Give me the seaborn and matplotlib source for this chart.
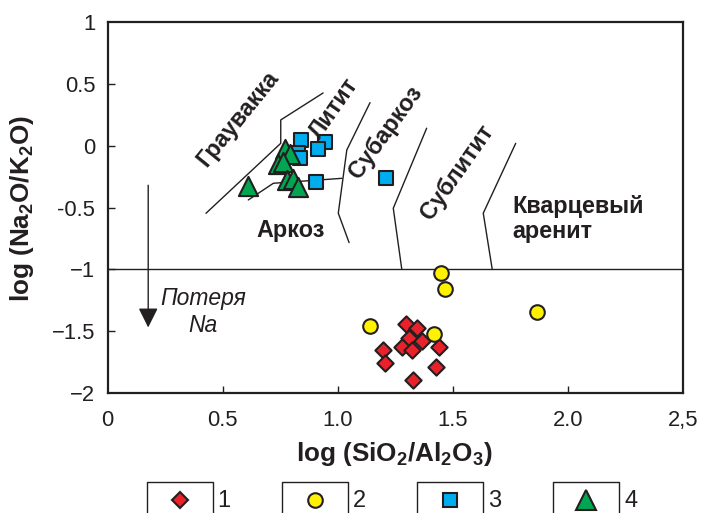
import matplotlib
matplotlib.use("Agg")
import matplotlib.pyplot as plt
import seaborn as sns
import pandas as pd

# ---- data ----
diamonds_x = [1.296, 1.343, 1.311, 1.278, 1.365, 1.321, 1.441, 1.198, 1.205, 1.427, 1.328]
diamonds_y = [-1.441, -1.476, -1.557, -1.630, -1.576, -1.652, -1.630, -1.652, -1.759, -1.791, -1.894]

circles_x = [1.447, 1.466, 1.140, 1.418, 1.867]
circles_y = [-1.027, -1.161, -1.458, -1.525, -1.342]

squares_x = [0.839, 0.944, 0.915, 0.828, 0.836, 0.905, 1.209]
squares_y = [0.046, 0.027, -0.027, -0.061, -0.102, -0.296, -0.264]

triangles_x = [0.611, 0.771, 0.792, 0.742, 0.760, 0.778, 0.804, 0.828]
triangles_y = [-0.323, -0.028, -0.069, -0.148, -0.129, -0.280, -0.268, -0.338]

# field boundaries
lineA_x = [0.427, 0.752, 0.752, 0.936]
lineA_y = [-0.547, 0.019, 0.208, 0.426]
lineB_x = [0.611, 0.720, 1.018]
lineB_y = [-0.439, -0.304, -0.264]
lineC_x = [1.140, 1.039, 1.002, 1.049]
lineC_y = [0.348, -0.035, -0.546, -0.784]
lineD_x = [1.386, 1.241, 1.278]
lineD_y = [0.141, -0.506, -1.0]
lineE_x = [1.773, 1.632, 1.671]
lineE_y = [0.019, -0.546, -1.0]
hline_x = [0.0, 2.5]
hline_y = [-1.0, -1.0]

x_ticks = [0, 0.5, 1.0, 1.5, 2.0, 2.5]
x_ticklabels = ["0", "0.5", "1.0", "1.5", "2.0", "2,5"]
y_ticks = [1, 0.5, 0, -0.5, -1, -1.5, -2]
y_ticklabels = ["1", "0.5", "0", "-0.5", "\u22121", "\u22121.5", "\u22122"]

legend_labels = ["1", "2", "3", "4"]

# ---- style ----
sns.set_style("ticks")
plt.rcParams["font.family"] = ["Liberation Sans", "DejaVu Sans"]
plt.rcParams["mathtext.fontset"] = "custom"
plt.rcParams["mathtext.rm"] = "Liberation Sans"
plt.rcParams["mathtext.bf"] = "Liberation Sans:bold"
plt.rcParams["mathtext.it"] = "Liberation Sans:italic"

EDGE = "#231f20"
RED = "#e8212a"
YELLOW = "#fff200"
BLUE = "#00aeef"
GREEN = "#00a651"

MS_D, MS_C, MS_S, MS_T = 8.3, 10.5, 9.6, 13.8

fig = plt.figure(figsize=(7.06, 5.13), dpi=100)
ax = fig.add_axes([107.7 / 706, 1 - 393 / 513, (683 - 107.7) / 706, (393 - 22) / 513])

lw_line = 1.0
for lx, ly in [(lineA_x, lineA_y), (lineB_x, lineB_y), (lineC_x, lineC_y),
               (lineD_x, lineD_y), (lineE_x, lineE_y), (hline_x, hline_y)]:
    ax.plot(lx, ly, color=EDGE, lw=lw_line, zorder=2)

df_d = pd.DataFrame({"x": diamonds_x, "y": diamonds_y})
df_c = pd.DataFrame({"x": circles_x, "y": circles_y})
df_s = pd.DataFrame({"x": squares_x, "y": squares_y})
df_t = pd.DataFrame({"x": triangles_x, "y": triangles_y})

sns.scatterplot(data=df_d, x="x", y="y", marker="D", s=MS_D ** 2, color=RED,
                edgecolor=EDGE, linewidth=1.5, ax=ax, zorder=3, legend=False)
sns.scatterplot(data=df_c, x="x", y="y", marker="o", s=MS_C ** 2, color=YELLOW,
                edgecolor=EDGE, linewidth=1.5, ax=ax, zorder=3, legend=False)
sns.scatterplot(data=df_s, x="x", y="y", marker="s", s=MS_S ** 2, color=BLUE,
                edgecolor=EDGE, linewidth=1.5, ax=ax, zorder=3, legend=False)
sns.scatterplot(data=df_t, x="x", y="y", marker="^", s=MS_T ** 2, color=GREEN,
                edgecolor=EDGE, linewidth=1.5, ax=ax, zorder=4, legend=False)

# arrow "loss of Na"
ax.annotate("", xy=(0.176, -1.47), xytext=(0.176, -0.32),
            arrowprops=dict(arrowstyle="-|>,head_length=0.6,head_width=0.3",
                            mutation_scale=20, color=EDGE, lw=1.0,
                            shrinkA=0, shrinkB=0), zorder=2)
ax.text(0.414, -1.288, "Потеря", fontsize=16.5, style="italic", ha="center",
        va="baseline", color=EDGE)
ax.text(0.414, -1.504, "Na", fontsize=16.5, style="italic", ha="center",
        va="baseline", color=EDGE)

# field labels
FS_LAB = 16.8
lab_kw = dict(fontsize=FS_LAB, fontweight="bold", color=EDGE, ha="center",
              va="center", rotation_mode="anchor")
ax.text(0.565, 0.222, "Граувакка", rotation=51, **lab_kw)
ax.text(0.985, 0.300, "Литит", rotation=55, **lab_kw)
ax.text(1.207, 0.108, "Субаркоз", rotation=54, **lab_kw)
ax.text(1.519, -0.215, "Сублитит", rotation=55, **lab_kw)
ax.text(0.794, -0.736, "Аркоз", fontsize=FS_LAB, fontweight="bold", color=EDGE,
        ha="center", va="baseline")
ax.text(1.758, -0.547, "Кварцевый", fontsize=FS_LAB, fontweight="bold", color=EDGE,
        ha="left", va="baseline")
ax.text(1.758, -0.749, "аренит", fontsize=FS_LAB, fontweight="bold", color=EDGE,
        ha="left", va="baseline")

# axes
FS_TICK = 15.8
ax.set_xlim(0, 2.5)
ax.set_ylim(-2, 1)
ax.set_xticks(x_ticks[1:-1])
ax.set_xticklabels(x_ticklabels[1:-1])
ax.set_yticks(y_ticks[1:-1])
ax.set_yticklabels(y_ticklabels[1:-1])
ax.tick_params(axis="both", direction="in", length=5, width=1.0, color=EDGE,
               labelsize=FS_TICK, labelcolor=EDGE)
ax.tick_params(axis="x", pad=12)
ax.tick_params(axis="y", pad=9)
for sp in ax.spines.values():
    sp.set_linewidth(1.6)
    sp.set_color(EDGE)

# end labels at the spine ends (no tick marks there)
ax2x = ax.secondary_xaxis("bottom")
ax2x.set_xticks([x_ticks[0], x_ticks[-1]])
ax2x.set_xticklabels([x_ticklabels[0], x_ticklabels[-1]])
ax2x.tick_params(length=0, labelsize=FS_TICK, pad=12, labelcolor=EDGE)
ax2x.spines["bottom"].set_visible(False)
ax2y = ax.secondary_yaxis("left")
ax2y.set_yticks([y_ticks[0], y_ticks[-1]])
ax2y.set_yticklabels([y_ticklabels[0], y_ticklabels[-1]])
ax2y.tick_params(length=0, labelsize=FS_TICK, pad=9, labelcolor=EDGE)
ax2y.spines["left"].set_visible(False)

ax.set_xlabel(r"$\mathbf{log\ (SiO_2/Al_2O_3)}$", fontsize=18.8, color=EDGE)
ax.xaxis.set_label_coords(0.4985, -0.128)
ax.set_ylabel(r"$\mathbf{log\ (Na_2O/K_2O)}$", fontsize=18.8, color=EDGE)
ax.yaxis.set_label_coords(-0.125, 0.497)

# ---- bottom legend ----
lg = fig.add_axes([0, 0, 1, 40 / 513])
lg.set_xlim(0, 706)
lg.set_ylim(513, 473)
lg.axis("off")
boxes = [(146.7, 212.7), (281.7, 348.3), (417.3, 483.3), (552.7, 619.3)]
mk = [("D", MS_D, RED), ("o", MS_C, YELLOW), ("s", MS_S, BLUE), ("^", MS_T, GREEN)]
for (x0, x1), (m, ms, c), lab in zip(boxes, mk, legend_labels):
    lg.plot([x0, x0, x1, x1], [514, 481.7, 481.7, 514], color=EDGE, lw=1.0,
            clip_on=False)
    lg.plot([(x0 + x1) / 2], [500], marker=m, ms=ms, mfc=c, mec=EDGE, mew=1.5,
            ls="none")
    lg.text(x1 + 5, 501, lab, fontsize=17, ha="left", va="center", color=EDGE)

fig.savefig("out.png", dpi=100)
